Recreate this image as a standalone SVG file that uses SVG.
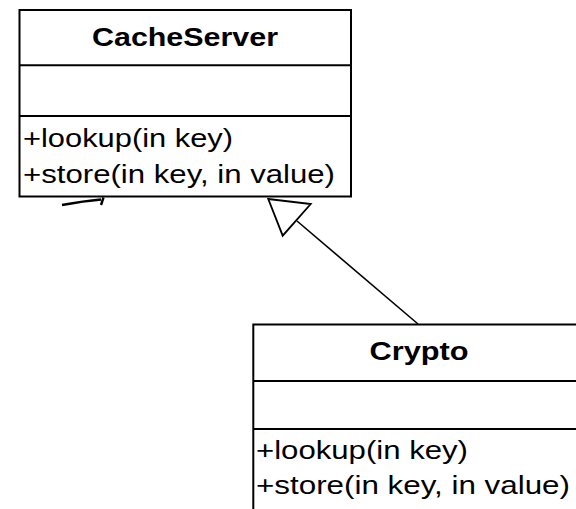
<svg xmlns="http://www.w3.org/2000/svg" width="576" height="509" viewBox="0 0 576 509">
<style>
.box{fill:#fff;stroke:#000;stroke-width:2}
.sep{stroke:#000;stroke-width:2}
.title{font-family:"Liberation Sans",Arial,sans-serif;font-weight:bold;font-size:26px;fill:#000;text-anchor:middle}
.op{font-family:"Liberation Sans",Arial,sans-serif;font-size:25.5px;fill:#000}
.edge{fill:none;stroke:#000;stroke-width:1.6}
.frag{fill:none;stroke:#000;stroke-width:2.4}
.head{fill:#fff;stroke:#000;stroke-width:1.8;stroke-linejoin:miter}
</style>
<rect width="576" height="509" fill="#fff"/>
<g id="connectors">
<path class="frag" d="M62,205 Q84,201 101,199.5"/>
<path class="frag" d="M103.5,197.5 L101,205"/>
<line class="edge" x1="418" y1="324" x2="297" y2="221"/>
<polygon class="head" points="268.3,199 310.7,204 282.7,235.7"/>
</g>
<g id="CacheServer">
<rect class="box" x="19.5" y="10" width="331.5" height="186.5"/>
<line class="sep" x1="19.5" y1="65.3" x2="351" y2="65.3"/>
<line class="sep" x1="19.5" y1="116" x2="351" y2="116"/>
<text class="title" x="185" y="46" textLength="186" lengthAdjust="spacingAndGlyphs">CacheServer</text>
<text class="op" x="23" y="147" textLength="210" lengthAdjust="spacingAndGlyphs">+lookup(in key)</text>
<text class="op" x="23" y="183" textLength="312" lengthAdjust="spacingAndGlyphs">+store(in key, in value)</text>
</g>
<g id="Crypto">
<rect class="box" x="253.3" y="324.5" width="331.5" height="200"/>
<line class="sep" x1="253.3" y1="381" x2="585" y2="381"/>
<line class="sep" x1="253.3" y1="429" x2="585" y2="429"/>
<text class="title" x="419" y="360" textLength="99" lengthAdjust="spacingAndGlyphs">Crypto</text>
<text class="op" x="256" y="458.5" textLength="212" lengthAdjust="spacingAndGlyphs">+lookup(in key)</text>
<text class="op" x="256" y="494" textLength="314" lengthAdjust="spacingAndGlyphs">+store(in key, in value)</text>
</g>
</svg>
